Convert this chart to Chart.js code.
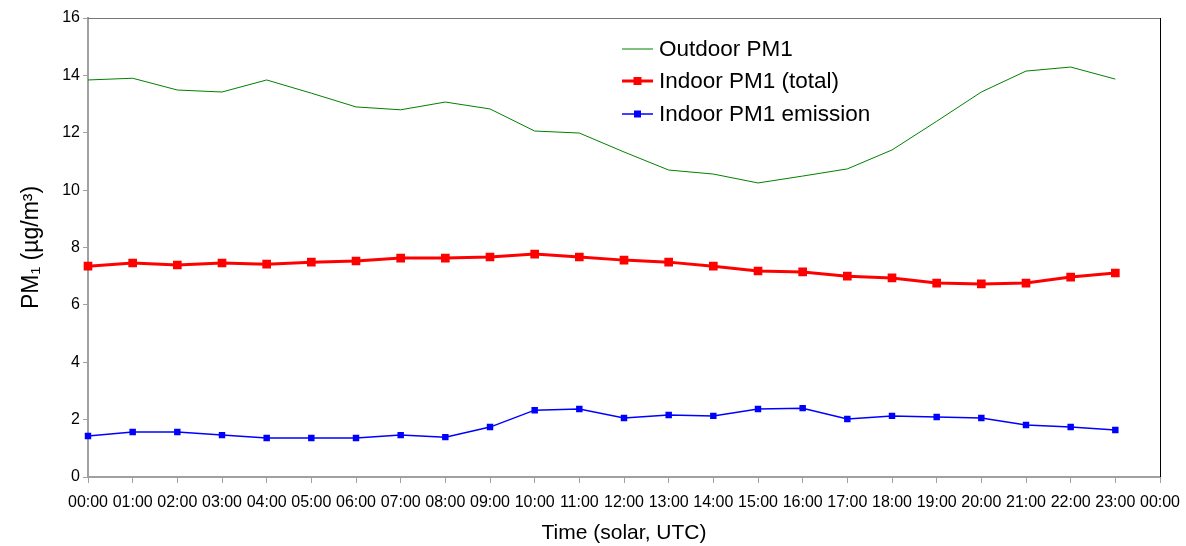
<!DOCTYPE html>
<html>
<head>
<meta charset="utf-8">
<script src="https://cdn.jsdelivr.net/npm/chart.js@4/dist/chart.umd.min.js"></script>
<style>
  html, body { margin: 0; padding: 0; background: #fff; }
  #wrap { width: 1186px; height: 546px; }
</style>
</head>
<body>
<div id="wrap"><canvas id="pmChart" width="1186" height="546"></canvas></div>
<script>
// Hourly PM1 concentrations (µg/m3), solar time
const hours = ["00:00", "01:00", "02:00", "03:00", "04:00", "05:00", "06:00", "07:00", "08:00", "09:00", "10:00", "11:00",
    "12:00", "13:00", "14:00", "15:00", "16:00", "17:00", "18:00", "19:00", "20:00", "21:00", "22:00", "23:00", "00:00"];
const outdoorPM1 = [13.84, 13.90, 13.49, 13.42, 13.84, 13.38, 12.90, 12.80, 13.07, 12.83, 12.06, 11.99,
    11.33, 10.70, 10.56, 10.25, 10.49, 10.74, 11.40, 12.40, 13.42, 14.15, 14.29, 13.87];
const indoorTotal = [7.35, 7.46, 7.39, 7.46, 7.42, 7.49, 7.53, 7.63, 7.63, 7.67, 7.77, 7.67,
    7.56, 7.49, 7.35, 7.18, 7.15, 7.00, 6.94, 6.76, 6.73, 6.76, 6.97, 7.11];
const indoorEmission = [1.43, 1.57, 1.57, 1.46, 1.36, 1.36, 1.36, 1.46, 1.39, 1.74, 2.33, 2.37,
    2.06, 2.16, 2.13, 2.37, 2.40, 2.02, 2.13, 2.09, 2.06, 1.81, 1.74, 1.64];
const yTicks = [0, 2, 4, 6, 8, 10, 12, 14, 16];

const font = 'Liberation Sans, Arial, sans-serif';

// Box lines on top/right of the plot area plus a legend placed inside it
const frameAndLegend = {
    id: 'frameAndLegend',
    afterDraw(chart) {
        const { ctx, chartArea: a } = chart;
        ctx.save();
        ctx.lineWidth = 1;
        ctx.strokeStyle = '#777777';
        ctx.beginPath();
        ctx.moveTo(a.left, a.top + 0.5);
        ctx.lineTo(a.right, a.top + 0.5);
        ctx.stroke();
        ctx.strokeStyle = '#000000';
        ctx.beginPath();
        ctx.moveTo(a.right + 0.5, a.top);
        ctx.lineTo(a.right + 0.5, a.bottom);
        ctx.stroke();

        const x0 = 622, x1 = 653, rows = [49, 81, 114];
        ctx.font = '22.5px ' + font;
        ctx.textBaseline = 'middle';
        chart.data.datasets.forEach((ds, i) => {
            const y = rows[i];
            ctx.strokeStyle = ds.borderColor;
            ctx.lineWidth = ds.borderWidth;
            ctx.beginPath();
            ctx.moveTo(x0, y);
            ctx.lineTo(x1, y);
            ctx.stroke();
            if (ds.pointRadius > 0) {
                const r = ds.pointRadius;
                ctx.fillStyle = ds.pointBackgroundColor;
                ctx.fillRect((x0 + x1) / 2 - r, y - r, r * 2, r * 2);
            }
            ctx.fillStyle = '#000';
            ctx.fillText(ds.label, 659, y + 1);
        });
        ctx.restore();
    }
};

new Chart(document.getElementById('pmChart').getContext('2d'), {
    type: 'line',
    data: {
        labels: hours,
        datasets: [{
            label: 'Outdoor PM1',
            data: outdoorPM1,
            borderColor: '#008000',
            backgroundColor: '#008000',
            borderWidth: 1,
            pointRadius: 0,
            tension: 0,
        }, {
            label: 'Indoor PM1 (total)',
            data: indoorTotal,
            borderColor: '#ff0000',
            backgroundColor: '#ff0000',
            pointBackgroundColor: '#ff0000',
            pointBorderColor: '#ff0000',
            borderWidth: 3,
            pointStyle: 'rect',
            pointRadius: 4,
            tension: 0,
        }, {
            label: 'Indoor PM1 emission',
            data: indoorEmission,
            borderColor: '#0000ff',
            backgroundColor: '#0000ff',
            pointBackgroundColor: '#0000ff',
            pointBorderColor: '#0000ff',
            borderWidth: 1.5,
            pointStyle: 'rect',
            pointRadius: 3.5,
            tension: 0,
        }],
    },
    options: {
        responsive: false,
        animation: false,
        layout: { padding: { top: 18, right: 26, left: 0, bottom: 0 } },
        plugins: {
            legend: { display: false },
            tooltip: { enabled: false },
        },
        scales: {
            x: {
                offset: false,
                grid: { drawOnChartArea: false, drawTicks: true, tickLength: 6, color: '#a0a0a0' },
                border: { color: '#a0a0a0', width: 2 },
                ticks: { color: '#000', font: { family: font, size: 16 }, maxRotation: 0, autoSkip: false, padding: 10 },
                title: { display: true, text: 'Time (solar, UTC)', color: '#000', font: { family: font, size: 21 }, padding: { top: 4, bottom: 0 } },
                afterFit(scale) {
                    scale.height = 69;
                    scale.paddingLeft = 0;
                    scale.paddingRight = 0;
                },
            },
            y: {
                min: 0,
                max: 16,
                afterBuildTicks(scale) { scale.ticks = yTicks.map((v) => ({ value: v })); },
                grid: { drawOnChartArea: false, drawTicks: true, tickLength: 5, color: '#a0a0a0' },
                border: { color: '#a0a0a0', width: 2 },
                ticks: { color: '#000', font: { family: font, size: 16 }, padding: 3 },
                title: { display: true, text: 'PM\u2081 (\u00b5g/m\u00b3)', color: '#000', font: { family: font, size: 23 }, padding: { top: 18, bottom: 0 } },
                afterFit(scale) {
                    scale.width = 88;
                    scale.paddingTop = 0;
                    scale.paddingBottom = 0;
                },
            },
        },
    },
    plugins: [frameAndLegend],
});
</script>
</body>
</html>
